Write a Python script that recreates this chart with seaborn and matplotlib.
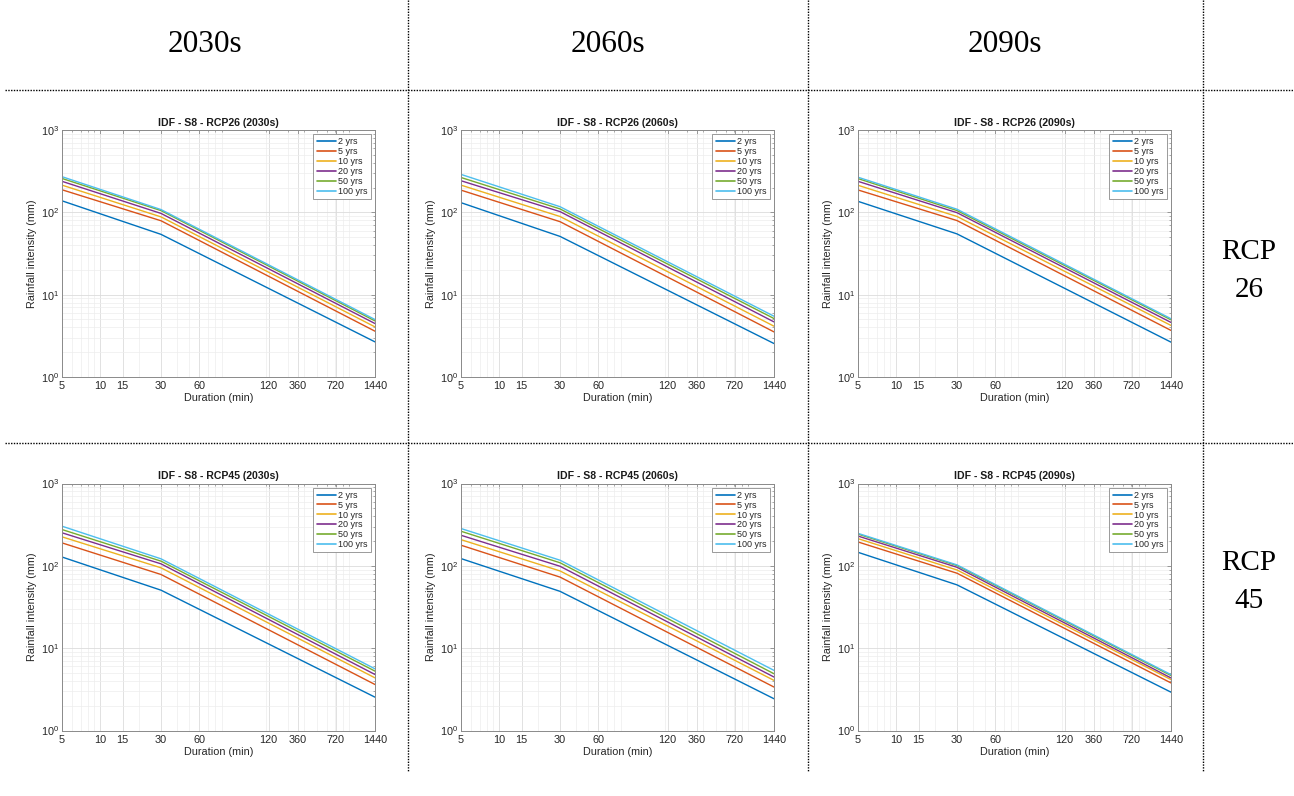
import numpy as np
import pandas as pd
import seaborn as sns
import matplotlib
matplotlib.use("Agg")
import matplotlib.pyplot as plt
from matplotlib.lines import Line2D
from matplotlib.ticker import LogLocator, NullFormatter, FixedLocator, FixedFormatter

# ---- data -------------------------------------------------------------
durations = [5, 30, 1440]                      # minutes
periods = ["2 yrs", "5 yrs", "10 yrs", "20 yrs", "50 yrs", "100 yrs"]
decades = ["2030s", "2060s", "2090s"]
scenarios = ["RCP26", "RCP45"]
scenario_labels = ["RCP\n26", "RCP\n45"]

# intensity (mm) at 5, 30 and 1440 min for each return period
rcp26_2030s = [[138, 54.0, 2.67], [188, 79.0, 3.60], [214, 88.0, 4.06],
               [238, 97.0, 4.46], [258, 105, 4.80], [271, 108, 4.99]]
rcp26_2060s = [[131, 51.0, 2.55], [186, 77.0, 3.53], [214, 89.0, 4.14],
               [242, 102, 4.67], [265, 110, 5.13], [289, 117, 5.47]]
rcp26_2090s = [[136, 54.7, 2.65], [187, 79.4, 3.68], [213, 89.0, 4.23],
               [238, 99.0, 4.60], [257, 105, 4.95], [267, 109, 5.10]]
rcp45_2030s = [[128, 50.6, 2.54], [190, 78.5, 3.62], [225, 94.6, 4.36],
               [252, 105.7, 4.79], [276, 114, 5.26], [303, 121.6, 5.61]]
rcp45_2060s = [[122.5, 49.0, 2.43], [178, 73.0, 3.37], [208, 86.7, 4.06],
               [235, 98.8, 4.46], [263, 109, 4.89], [284, 117, 5.37]]
rcp45_2090s = [[146, 58.7, 2.92], [195, 81.3, 3.78], [214, 89.0, 4.15],
               [230, 96.0, 4.35], [243, 100.7, 4.65], [248, 102.6, 4.77]]

panels = [[rcp26_2030s, rcp26_2060s, rcp26_2090s],
          [rcp45_2030s, rcp45_2060s, rcp45_2090s]]

xtick_pos = [5, 10, 15, 30, 60, 210, 355, 710, 1440]
xtick_labels = ["5", "10", "15", "30", "60", "120", "360", "720", "1440"]

colors = ["#0072BD", "#D95319", "#EDB120", "#7E2F8E", "#77AC30", "#4DBEEE"]

# ---- figure -----------------------------------------------------------
sns.set_theme(style="white")
plt.rcParams["font.family"] = ["Liberation Sans", "DejaVu Sans"]
plt.rcParams["mathtext.default"] = "regular"

W, H = 1294, 796
fig = plt.figure(figsize=(W / 100, H / 100), dpi=100)
fig.patch.set_facecolor("white")


def fx(x):
    return x / W


def fy(y):
    return 1 - y / H


# table rules
dot = dict(color="black", lw=1.0, linestyle=(0, (1, 1)), transform=fig.transFigure)
for y in (90, 443):
    fig.add_artist(Line2D([fx(5), fx(1294)], [fy(y), fy(y)], **dot))
for x in (408, 808, 1203):
    fig.add_artist(Line2D([fx(x), fx(x)], [fy(0), fy(772)], **dot))

# column and row headers
for cx, txt in zip((205, 608, 1005), decades):
    fig.text(fx(cx), fy(45), txt, ha="center", va="center",
             fontsize=22.5, family="Liberation Serif", color="black")
for cy, txt in zip((271, 582), scenario_labels):
    fig.text(fx(1249), fy(cy), txt, ha="center", va="center",
             fontsize=21, family="Liberation Serif", linespacing=1.6, color="black")

col_left = [62, 461, 858]
row_top = [130, 483.5]
ax_w, ax_h = 313, 247
box_col = "#8a8a8a"
txt_col = "#262626"

for r in range(2):
    for c in range(3):
        left, top = col_left[c], row_top[r]
        ax = fig.add_axes([fx(left), fy(top + ax_h), ax_w / W, ax_h / H])
        values = panels[r][c]
        for lbl, col, vals in zip(periods, colors, values):
            df = pd.DataFrame({"Duration": durations, "Intensity": vals})
            sns.lineplot(data=df, x="Duration", y="Intensity", color=col,
                         lw=1.0, ax=ax, legend=False)
        ax.set_xscale("log")
        ax.set_yscale("log")
        ax.set_xlim(5, 1440)
        ax.set_ylim(1, 1000)

        ax.xaxis.set_major_locator(FixedLocator(xtick_pos))
        ax.xaxis.set_major_formatter(FixedFormatter(xtick_labels))
        ax.xaxis.set_minor_locator(LogLocator(base=10, subs=np.arange(2, 10)))
        ax.xaxis.set_minor_formatter(NullFormatter())
        ax.yaxis.set_major_locator(LogLocator(base=10, numticks=10))
        ax.yaxis.set_minor_locator(LogLocator(base=10, subs=np.arange(2, 10), numticks=10))
        ax.yaxis.set_minor_formatter(NullFormatter())

        ax.grid(True, which="major", color="#dcdcdc", lw=0.6)
        ax.grid(True, which="minor", color="#ededed", lw=0.5)
        ax.set_axisbelow(True)

        ax.tick_params(which="both", direction="in", top=True, right=True,
                       colors=box_col, labelcolor=txt_col, labelsize=7.8)
        ax.tick_params(axis="x", pad=3)
        ax.tick_params(axis="y", pad=2)
        ax.tick_params(which="major", length=3, width=0.6)
        ax.tick_params(which="minor", length=1.6, width=0.5)
        for s in ax.spines.values():
            s.set_color(box_col)
            s.set_linewidth(0.7)

        ax.set_xlabel("Duration (min)", fontsize=7.8, color=txt_col, labelpad=1.5)
        ax.set_ylabel("Rainfall intensity (mm)", fontsize=7.8, color=txt_col, labelpad=3)
        ax.set_title(f"IDF - S8 - {scenarios[r]} ({decades[c]})", fontsize=7.6,
                     fontweight="bold", color="#1a1a1a", pad=3)

        handles = [Line2D([], [], color=col, lw=1.2) for col in colors]
        leg = ax.legend(handles, periods, loc="upper right", frameon=True,
                        fancybox=False, fontsize=6.5, handlelength=2.2,
                        labelspacing=0.1, borderpad=0.35, handletextpad=0.2,
                        borderaxespad=0.45)
        for t in leg.get_texts():
            t.set_color(txt_col)
        leg.get_frame().set_edgecolor(box_col)
        leg.get_frame().set_linewidth(0.6)
        leg.get_frame().set_facecolor("white")
        leg.get_frame().set_alpha(1)

fig.savefig("out.png", dpi=100, facecolor="white")
